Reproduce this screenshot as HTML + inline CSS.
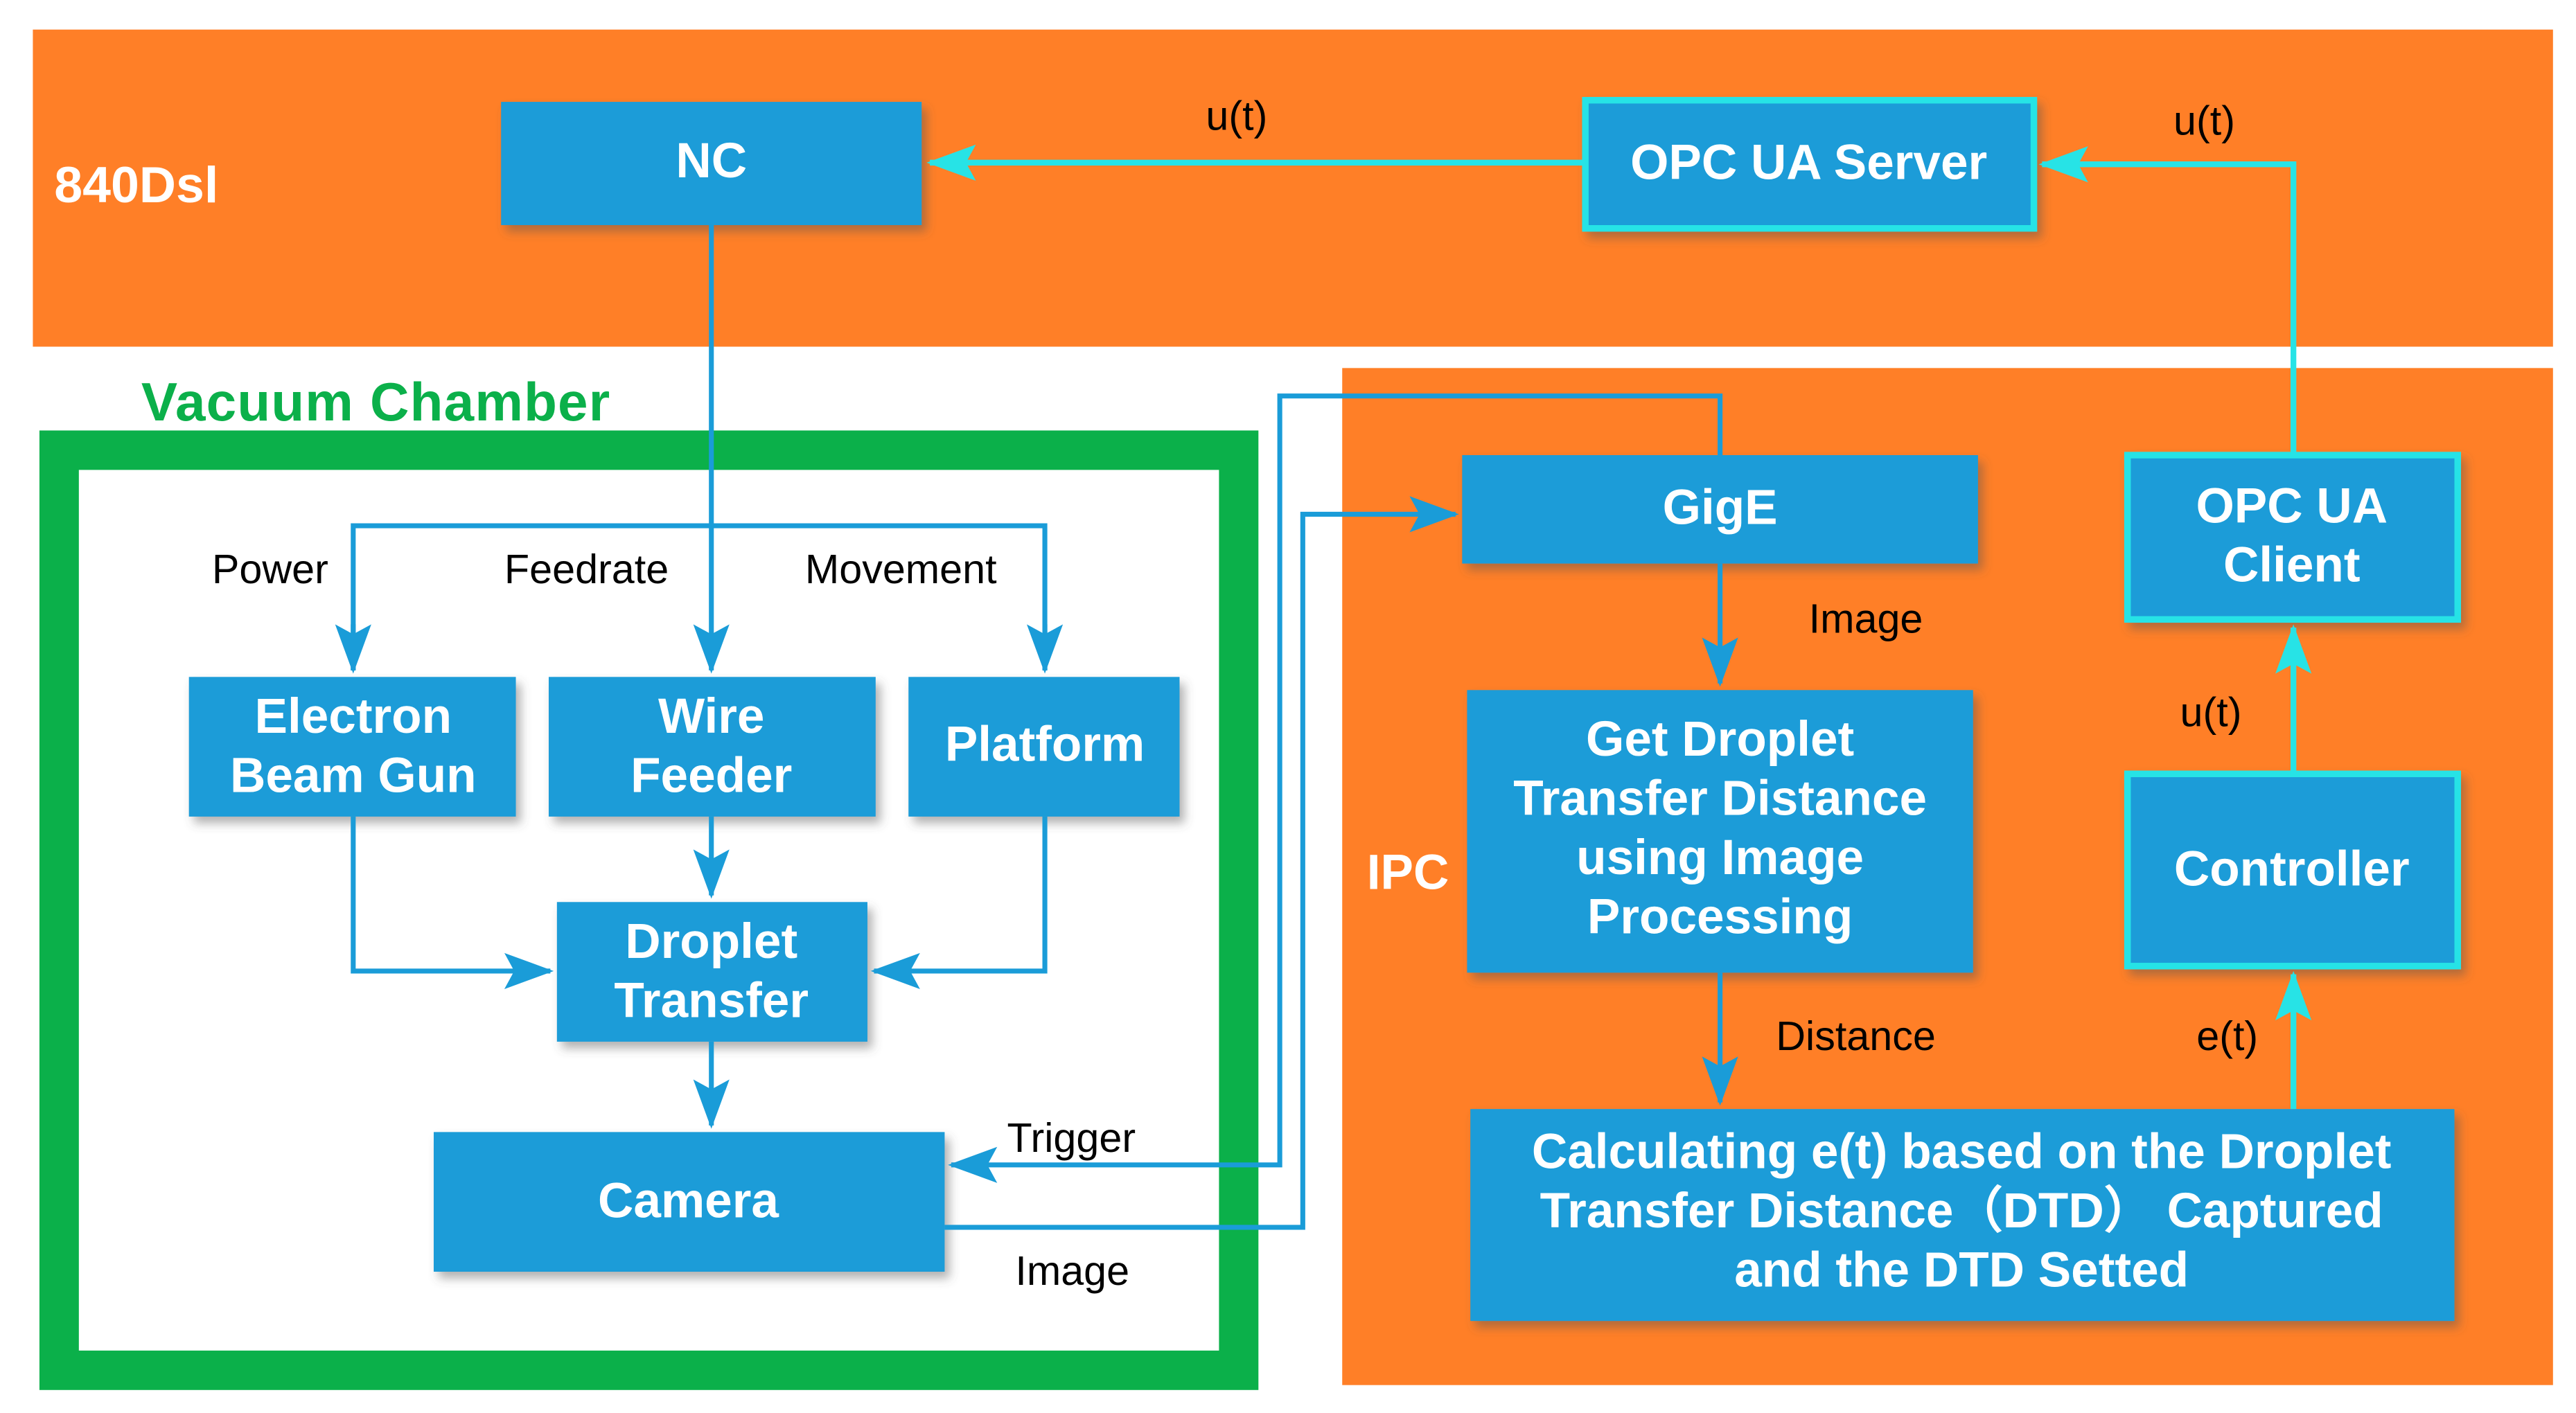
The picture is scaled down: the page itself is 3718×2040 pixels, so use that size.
<!DOCTYPE html>
<html><head><meta charset="utf-8"><style>
html,body{margin:0;padding:0;background:#fff;width:3718px;height:2040px;overflow:hidden}
svg{display:block}
.bt{font-family:"Liberation Sans",sans-serif;font-weight:bold;fill:#fff;font-size:30px;text-anchor:middle}
.lb{font-family:"Liberation Sans",sans-serif;fill:#000;font-size:25px}
</style></head><body>
<svg width="3718" height="2040" viewBox="0 0 1568 860" preserveAspectRatio="none" xmlns="http://www.w3.org/2000/svg">
<defs>
<filter id="sh" x="-10%" y="-10%" width="130%" height="140%"><feDropShadow dx="3" dy="4" stdDeviation="3" flood-color="#555" flood-opacity="0.45"/></filter>
<marker id="ab" markerWidth="30" markerHeight="24" refX="28" refY="12" orient="auto" markerUnits="userSpaceOnUse" viewBox="0 0 30 24"><path d="M0,1 L30,12 L0,23 L6,12 z" fill="#1A9CD8"/></marker>
<marker id="ac" markerWidth="30" markerHeight="24" refX="28" refY="12" orient="auto" markerUnits="userSpaceOnUse" viewBox="0 0 30 24"><path d="M0,1 L30,12 L0,23 L6,12 z" fill="#27E3E6"/></marker>
</defs>
<style>.bl{fill:none;stroke:#1A9CD8;stroke-width:3}.cl{fill:none;stroke:#27E3E6;stroke-width:3.5}</style>
<rect x="20" y="18" width="1534" height="193" fill="#FF7F27"/>
<rect x="817" y="224" width="737" height="619" fill="#FF7F27"/>
<rect x="36" y="274" width="718" height="560" fill="#fff" stroke="#0BB04A" stroke-width="24"/>
<text x="33" y="123" class="bt" style="text-anchor:start;font-size:31px">840Dsl</text>
<text x="86" y="256" class="bt" style="text-anchor:start;fill:#0BB04A;font-size:33px;letter-spacing:0.5px">Vacuum Chamber</text>
<text x="832" y="541" class="bt" style="text-anchor:start">IPC</text>
<g filter="url(#sh)" fill="#1A9CD8">
<rect x="305" y="62" width="256" height="75"/>
<rect x="965" y="61" width="273" height="78" stroke="#27E3E6" stroke-width="4"/>
<rect x="890" y="277" width="314" height="66"/>
<rect x="1295" y="277" width="201" height="100" stroke="#27E3E6" stroke-width="4"/>
<rect x="893" y="420" width="308" height="172"/>
<rect x="1295" y="471" width="201" height="117" stroke="#27E3E6" stroke-width="4"/>
<rect x="895" y="675" width="599" height="129"/>
<rect x="115" y="412" width="199" height="85"/>
<rect x="334" y="412" width="199" height="85"/>
<rect x="553" y="412" width="165" height="85"/>
<rect x="339" y="549" width="189" height="85"/>
<rect x="264" y="689" width="311" height="85"/>
</g>
<text x="433" y="108" class="bt">NC</text>
<text x="1101" y="109" class="bt">OPC UA Server</text>
<text x="1047" y="319" class="bt">GigE</text>
<text x="1395" y="318" class="bt">OPC UA</text><text x="1395" y="354" class="bt">Client</text>
<text x="1047" y="460" class="bt">Get Droplet</text>
<text x="1047" y="496" class="bt">Transfer Distance</text>
<text x="1047" y="532" class="bt">using Image</text>
<text x="1047" y="568" class="bt">Processing</text>
<text x="1395" y="539" class="bt">Controller</text>
<text x="1194" y="711" class="bt">Calculating e(t) based on the Droplet</text>
<text x="1194" y="747" class="bt">Transfer Distance（DTD） Captured</text>
<text x="1194" y="783" class="bt">and the DTD Setted</text>
<text x="215" y="446" class="bt">Electron</text><text x="215" y="482" class="bt">Beam Gun</text>
<text x="433" y="446" class="bt">Wire</text><text x="433" y="482" class="bt">Feeder</text>
<text x="636" y="463" class="bt">Platform</text>
<text x="433" y="583" class="bt">Droplet</text><text x="433" y="619" class="bt">Transfer</text>
<text x="419" y="741" class="bt">Camera</text>
<path class="cl" d="M965,99 L566,99" marker-end="url(#ac)"/>
<path class="cl" d="M1396,277 L1396,100 L1243,100" marker-end="url(#ac)"/>
<path class="cl" d="M1396,471 L1396,382" marker-end="url(#ac)"/>
<path class="cl" d="M1396,675 L1396,593" marker-end="url(#ac)"/>
<path class="bl" d="M433,137 L433,408" marker-end="url(#ab)"/>
<path class="bl" d="M215,408 L215,320 L636,320 L636,408" />
<path class="bl" d="M215,380 L215,408" marker-end="url(#ab)"/>
<path class="bl" d="M636,380 L636,408" marker-end="url(#ab)"/>
<path class="bl" d="M215,497 L215,591 L335,591" marker-end="url(#ab)"/>
<path class="bl" d="M636,497 L636,591 L532,591" marker-end="url(#ab)"/>
<path class="bl" d="M433,497 L433,545" marker-end="url(#ab)"/>
<path class="bl" d="M433,634 L433,685" marker-end="url(#ab)"/>
<path class="bl" d="M1047,277 L1047,241 L779,241 L779,709 L579,709" marker-end="url(#ab)"/>
<path class="bl" d="M575,747 L793,747 L793,313 L886,313" marker-end="url(#ab)"/>
<path class="bl" d="M1047,343 L1047,416" marker-end="url(#ab)"/>
<path class="bl" d="M1047,592 L1047,671" marker-end="url(#ab)"/>
<text x="734" y="79" class="lb">u(t)</text>
<text x="1323" y="82" class="lb">u(t)</text>
<text x="1327" y="442" class="lb">u(t)</text>
<text x="1337" y="639" class="lb">e(t)</text>
<text x="129" y="355" class="lb">Power</text>
<text x="307" y="355" class="lb">Feedrate</text>
<text x="490" y="355" class="lb">Movement</text>
<text x="613" y="701" class="lb">Trigger</text>
<text x="618" y="782" class="lb">Image</text>
<text x="1101" y="385" class="lb">Image</text>
<text x="1081" y="639" class="lb">Distance</text>
</svg>
</body></html>
